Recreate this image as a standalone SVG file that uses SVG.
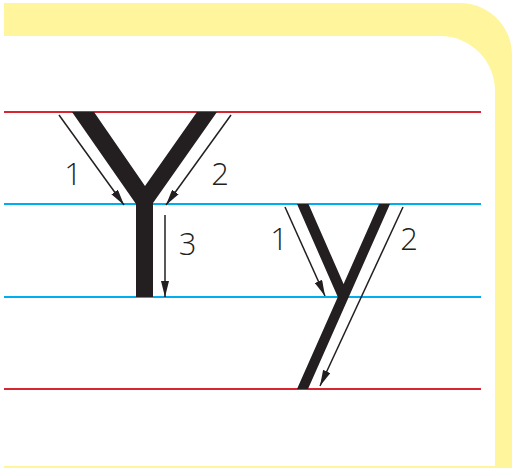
<svg xmlns="http://www.w3.org/2000/svg" width="512" height="468" viewBox="0 0 512 468">
  <style>
    .red { stroke: #d7262f; stroke-width: 2; }
    .blue { stroke: #00aeef; stroke-width: 2; }
    .glyph { fill: #231f20; }
    .arrow { stroke: #231f20; stroke-width: 1.5; fill: none; marker-end: url(#head); }
    .num { font-family: "Open Sans", "Liberation Sans", sans-serif; font-weight: 300; font-size: 31px; fill: #231f20; text-anchor: middle; }
  </style>
  <defs>
    <marker id="head" markerUnits="userSpaceOnUse" viewBox="0 0 16 8" markerWidth="16" markerHeight="8" refX="16" refY="4" orient="auto">
      <path d="M0,0 L16,4 L0,8 Z" fill="#231f20"/>
    </marker>
  </defs>
  <rect x="0" y="0" width="512" height="468" fill="#ffffff"/>
  <g id="frame">
    <path d="M4,3 H460 A52,52 0 0 1 512,55 V468 H4 Z" fill="#fff59d"/>
    <path d="M4,36 H440 A55,55 0 0 1 495,91 V466 H4 Z" fill="#ffffff"/>
  </g>
  <g id="guidelines">
    <line class="red" x1="4" y1="112" x2="481" y2="112"/>
    <line class="blue" x1="4" y1="204" x2="481" y2="204"/>
    <line class="blue" x1="4" y1="297" x2="481" y2="297"/>
    <line class="red" x1="4" y1="389" x2="481" y2="389"/>
  </g>
  <g id="capital-Y">
    <path class="glyph" d="M72,112 L94,112 L145,186 L197,112 L217,112 L153,203 L153,297 L136,297 L136,204 Z"/>
  </g>
  <g id="small-y">
    <path class="glyph" d="M297,204 L308.5,204 L343.6,284 L379,204 L390,204 L308,389 L297,389 L337.8,297 Z"/>
  </g>
  <g id="connectors">
    <line class="arrow" x1="59" y1="115" x2="124" y2="205"/>
    <line class="arrow" x1="231" y1="115" x2="166" y2="205"/>
    <line class="arrow" x1="165" y1="215" x2="165" y2="297"/>
    <line class="arrow" x1="285" y1="207" x2="325" y2="296"/>
    <line class="arrow" x1="403" y1="207" x2="320" y2="386"/>
  </g>
  <g id="labels">
    <text class="num" x="73" y="185">1</text>
    <text class="num" x="220" y="185">2</text>
    <text class="num" x="187.5" y="255">3</text>
    <text class="num" x="279" y="250">1</text>
    <text class="num" x="409" y="250">2</text>
  </g>
</svg>
